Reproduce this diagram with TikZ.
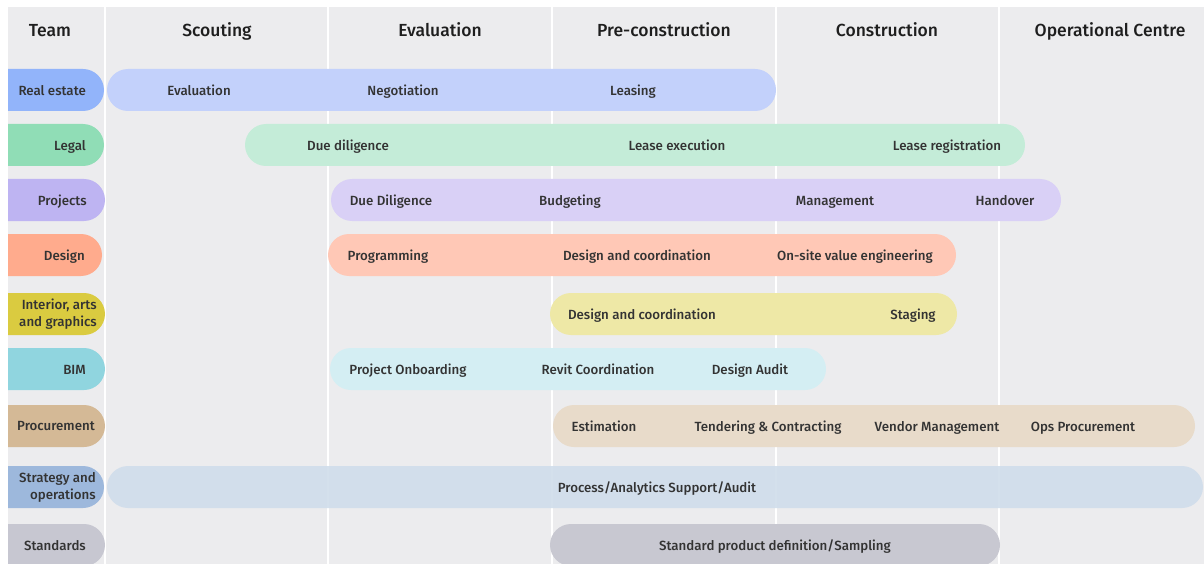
\documentclass[tikz,border=0pt]{standalone}
\usepackage{fontspec}
\setmainfont{Fira Sans}[UprightFont={* Medium}]
\usetikzlibrary{positioning}
\definecolor{bggray}{HTML}{ECECEE}
\definecolor{inkgray}{HTML}{333333}
\definecolor{inkdark}{HTML}{1E1E1E}
\definecolor{realpill}{HTML}{92B4FA}
\definecolor{realbar}{HTML}{C3D1FB}
\definecolor{legalpill}{HTML}{90DDB6}
\definecolor{legalbar}{HTML}{C4ECD8}
\definecolor{projpill}{HTML}{BEB4F2}
\definecolor{projbar}{HTML}{D9D0F6}
\definecolor{designpill}{HTML}{FFAB8D}
\definecolor{designbar}{HTML}{FFC8B6}
\definecolor{intpill}{HTML}{DACB40}
\definecolor{intbar}{HTML}{EEE8A6}
\definecolor{bimpill}{HTML}{90D5DF}
\definecolor{bimbar}{HTML}{D4EEF3}
\definecolor{procpill}{HTML}{D4B996}
\definecolor{procbar}{HTML}{E8DBCA}
\definecolor{stratpill}{HTML}{9DB8DC}
\definecolor{stratbar}{HTML}{D0DDEB}
\definecolor{stdpill}{HTML}{C7C7D1}
\definecolor{stdbar}{HTML}{C8C8D1}

\begin{document}
\begin{tikzpicture}[
    x=1pt, y=-1pt,
    every node/.style={font=\fontsize{13.3}{16.5}\selectfont, text=inkgray, inner sep=0pt,
                       text height=9.4pt, text depth=0pt},
    header/.style={font=\fontsize{17.5}{20}\selectfont, text=inkdark,
                   text height=12.4pt, text depth=0pt},
    teamlabel/.style={anchor=east, align=right},
    pill/.style={rounded corners=21pt},
    divider/.style={draw=white, line width=2.5pt}
]
\useasboundingbox (0,0) rectangle (1204,564);

% Background and phase columns
\fill[white] (0,0) rectangle (1204,564);
\fill[bggray] (8,7) rectangle (1204,564);
\draw[divider] (105,7) -- (105,564);
\draw[divider] (328,7) -- (328,564);
\draw[divider] (552,7) -- (552,564);
\draw[divider] (776,7) -- (776,564);
\draw[divider] (999,7) -- (999,564);

% Headers
\node[header] (hteam) at (50,30.5) {Team};
\node[header] (hscout) at (217,30.5) {Scouting};
\node[header] (heval) at (440,30.5) {Evaluation};
\node[header] (hpre) at (664,30.5) {Pre-construction};
\node[header] (hcons) at (887,30.5) {Construction};
\node[header] (hops) at (1110,30.5) {Operational Centre};

% Team pills
\begin{scope}
\clip (8,0) rectangle (1204,564);
\fill[pill, realpill] (-30,69) rectangle (104,111);
\fill[pill, legalpill] (-30,124) rectangle (104,166);
\fill[pill, projpill] (-30,179) rectangle (105,221);
\fill[pill, designpill] (-30,234) rectangle (102,276);
\fill[pill, intpill] (-30,293) rectangle (105,335);
\fill[pill, bimpill] (-30,348) rectangle (105,390);
\fill[pill, procpill] (-30,405) rectangle (105,447);
\fill[pill, stratpill] (-30,466) rectangle (104,508);
\fill[pill, stdpill] (-30,524) rectangle (105,566);
\end{scope}

\node[teamlabel] (treal) at (86,90.5) {Real estate};
\node[teamlabel] (tlegal) at (86,145.5) {Legal};
\node[teamlabel] (tproj) at (87,200.5) {Projects};
\node[teamlabel] (tdesign) at (85,255.5) {Design};
\node[teamlabel, text height=, text depth=] (tint) at (97,314) {Interior, arts\\and graphics};
\node[teamlabel] (tbim) at (86,369.5) {BIM};
\node[teamlabel] (tproc) at (95,425.5) {Procurement};
\node[teamlabel, text height=, text depth=] (tstrat) at (96,487.5) {Strategy and\\operations};
\node[teamlabel] (tstd) at (86,545.5) {Standards};

% Activity bars
\fill[pill, realbar] (107,69) rectangle (776,111);
\fill[pill, legalbar] (245,124) rectangle (1025,166);
\fill[pill, projbar] (331,179) rectangle (1061,221);
\fill[pill, designbar] (328,234) rectangle (956,276);
\fill[pill, intbar] (550,293) rectangle (957,335);
\fill[pill, bimbar] (330,348) rectangle (826,390);
\fill[pill, procbar] (553,405) rectangle (1195,447);
\fill[pill, stratbar, opacity=0.9] (107,466) rectangle (1203,508);
\fill[pill, stdbar] (550,524) rectangle (1000,566);

% Activity labels
\node (a11) at (199,90.5) {Evaluation};
\node (a12) at (403,90.5) {Negotiation};
\node (a13) at (633,90.5) {Leasing};
\node (a21) at (348,145.5) {Due diligence};
\node (a22) at (677,145.5) {Lease execution};
\node (a23) at (947,145.5) {Lease registration};
\node (a31) at (391,200.5) {Due Diligence};
\node (a32) at (570,200.5) {Budgeting};
\node (a33) at (835,200.5) {Management};
\node (a34) at (1005,200.5) {Handover};
\node (a41) at (388,255.5) {Programming};
\node (a42) at (637,255.5) {Design and coordination};
\node (a43) at (855,255.5) {On-site value engineering};
\node (a51) at (642,314.5) {Design and coordination};
\node (a52) at (913,314.5) {Staging};
\node (a61) at (408,369.5) {Project Onboarding};
\node (a62) at (598,369.5) {Revit Coordination};
\node (a63) at (750,369.5) {Design Audit};
\node (a71) at (604,426.5) {Estimation};
\node (a72) at (768,426.5) {Tendering \& Contracting};
\node (a73) at (937,426.5) {Vendor Management};
\node (a74) at (1083,426.5) {Ops Procurement};
\node (a81) at (657,487.5) {Process/Analytics Support/Audit};
\node (a91) at (775,545.5) {Standard product definition/Sampling};

\end{tikzpicture}
\end{document}
